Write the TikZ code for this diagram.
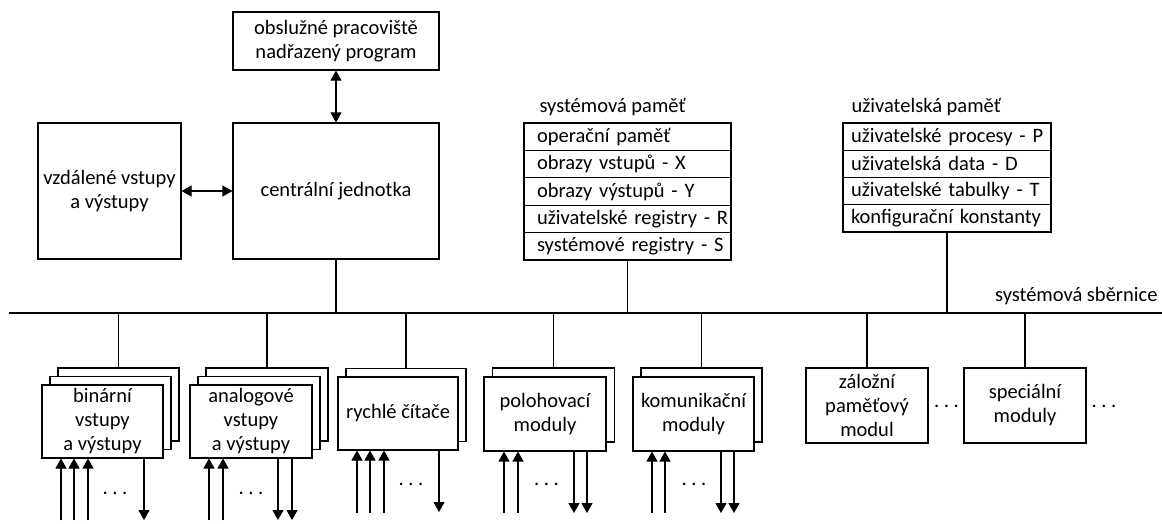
\documentclass[tikz,border=0pt]{standalone}
\usepackage{fontspec}
\setmainfont{Carlito}
\usetikzlibrary{arrows.meta}
\begin{document}
\begin{tikzpicture}[x=1pt,y=-1pt,
  line width=1.1pt,
  every node/.style={font=\fontsize{20.5}{24}\selectfont},
  blk/.style 2 args={draw, fill=white, inner sep=0pt, align=center,
    minimum width=#1pt, minimum height=#2pt},
  cell/.style={draw, outer sep=0pt, inner sep=0pt, align=left,
    minimum height=#1pt, anchor=north west},
  lbl/.style={inner sep=0pt},
  dots/.style={inner sep=0pt, anchor=base},
  tip/.style={-{Triangle[length=10pt,width=11pt]}},
  both/.style={{Triangle[length=10pt,width=11pt]}-{Triangle[length=10pt,width=11pt]}},
]
\useasboundingbox (0,0) rectangle (1162,523);

% upper level: operator station, CPU, remote I/O
\node[blk={206}{58}] (op) at (336,41) {obslužné pracoviště\\nadřazený program};
\node[blk={206}{136}] (cpu) at (336,191) {centrální jednotka};
\node[blk={143}{136}] (rem) at (109.5,191) {vzdálené vstupy\\a výstupy};
\draw[both] (op.south) -- (cpu.north);
\draw[both] (rem.east) -- (cpu.west);

% system memory
\node[lbl, anchor=base west] (smt) at (539,112) {systémová paměť};
\foreach \t [count=\i] in {operační paměť, obrazy vstupů - X, obrazy výstupů - Y,
    uživatelské registry - R, systémové registry - S}
  \node[cell=27.4, text width=207pt] (sys\i) at (524,{123+27.4*(\i-1)})
    {\hspace*{13pt}\t};

% user memory
\node[lbl, anchor=base west] (umt) at (851,112) {uživatelská paměť};
\foreach \t [count=\i] in {uživatelské procesy - P, uživatelská data - D,
    uživatelské tabulky - T, konfigurační konstanty}
  \node[cell=27.25, text width=208pt] (usr\i) at (843,{123+27.25*(\i-1)})
    {\hspace*{8pt}\t};

% system bus
\coordinate (busL) at (9,313);
\coordinate (busR) at (1162,313);
\draw (busL) -- (busR);
\node[lbl, anchor=base east] (busT) at (1158,301) {systémová sběrnice};

\draw (cpu.south) -- (cpu.south |- busL);
\draw (sys5.south) -- (sys5.south |- busL);
\draw (usr4.south) -- (usr4.south |- busL);

% binary I/O (three stacked cards)
\node[blk={121}{73}] (bin3) at (118.5,404.5) {};
\node[blk={121}{73}] (bin2) at (110.5,413) {};
\node[blk={121}{73}] (bin) at (102.5,421.5) {binární\\vstupy\\a výstupy};
% analog I/O (three stacked cards)
\node[blk={122}{73}] (ana3) at (267,404.5) {};
\node[blk={122}{73}] (ana2) at (259,413) {};
\node[blk={122}{73}] (ana) at (251,421.5) {analogové\\vstupy\\a výstupy};
% fast counters
\node[blk={120}{73}] (cit2) at (406,405) {};
\node[blk={120}{73}] (cit) at (398,413.5) {rychlé čítače};
% positioning modules
\node[blk={122}{74}] (pol2) at (553.5,405) {};
\node[blk={122}{74}] (pol) at (545,414) {polohovací\\moduly};
% communication modules
\node[blk={121}{74}] (kom2) at (701.5,405) {};
\node[blk={121}{74}] (kom) at (693.5,414) {komunikační\\moduly};
% backup memory and special modules
\node[blk={122}{75}] (zal) at (867,405.5) {záložní\\paměťový\\modul};
\node[blk={122}{75}] (spe) at (1025,405.5) {speciální\\moduly};

\foreach \n in {bin3, ana3, cit2, pol2, kom2, zal, spe}
  \draw (\n.north) -- (\n.north |- busL);

% signal lines below the modules
\foreach \x [count=\i] in {61,74,88}
  {\coordinate (binI\i) at (\x,520); \draw[tip] (binI\i) -- (binI\i |- bin.south);}
\coordinate (binO1) at (144,520); \draw[tip] (binO1 |- bin.south) -- (binO1);
\node[dots] (binD) at (115,494) {.\ .\ .};

\foreach \x [count=\i] in {209,223}
  {\coordinate (anaI\i) at (\x,520); \draw[tip] (anaI\i) -- (anaI\i |- ana.south);}
\foreach \x [count=\i] in {278,292}
  {\coordinate (anaO\i) at (\x,520); \draw[tip] (anaO\i |- ana.south) -- (anaO\i);}
\node[dots] (anaD) at (251,494) {.\ .\ .};

\foreach \x [count=\i] in {357,370,384}
  {\coordinate (citI\i) at (\x,513); \draw[tip] (citI\i) -- (citI\i |- cit.south);}
\coordinate (citO1) at (439,512); \draw[tip] (citO1 |- cit.south) -- (citO1);
\node[dots] (citD) at (411,485) {.\ .\ .};

\foreach \x [count=\i] in {504,518}
  {\coordinate (polI\i) at (\x,513); \draw[tip] (polI\i) -- (polI\i |- pol.south);}
\foreach \x [count=\i] in {574,587}
  {\coordinate (polO\i) at (\x,513); \draw[tip] (polO\i |- pol.south) -- (polO\i);}
\node[dots] (polD) at (546.5,485) {.\ .\ .};

\foreach \x [count=\i] in {652,665}
  {\coordinate (komI\i) at (\x,513); \draw[tip] (komI\i) -- (komI\i |- kom.south);}
\foreach \x [count=\i] in {721,734}
  {\coordinate (komO\i) at (\x,513); \draw[tip] (komO\i |- kom.south) -- (komO\i);}
\node[dots] (komD) at (694,485) {.\ .\ .};

\node[dots] (zalD) at (946.5,407) {.\ .\ .};
\node[dots] (speD) at (1104,407) {.\ .\ .};
\end{tikzpicture}
\end{document}
